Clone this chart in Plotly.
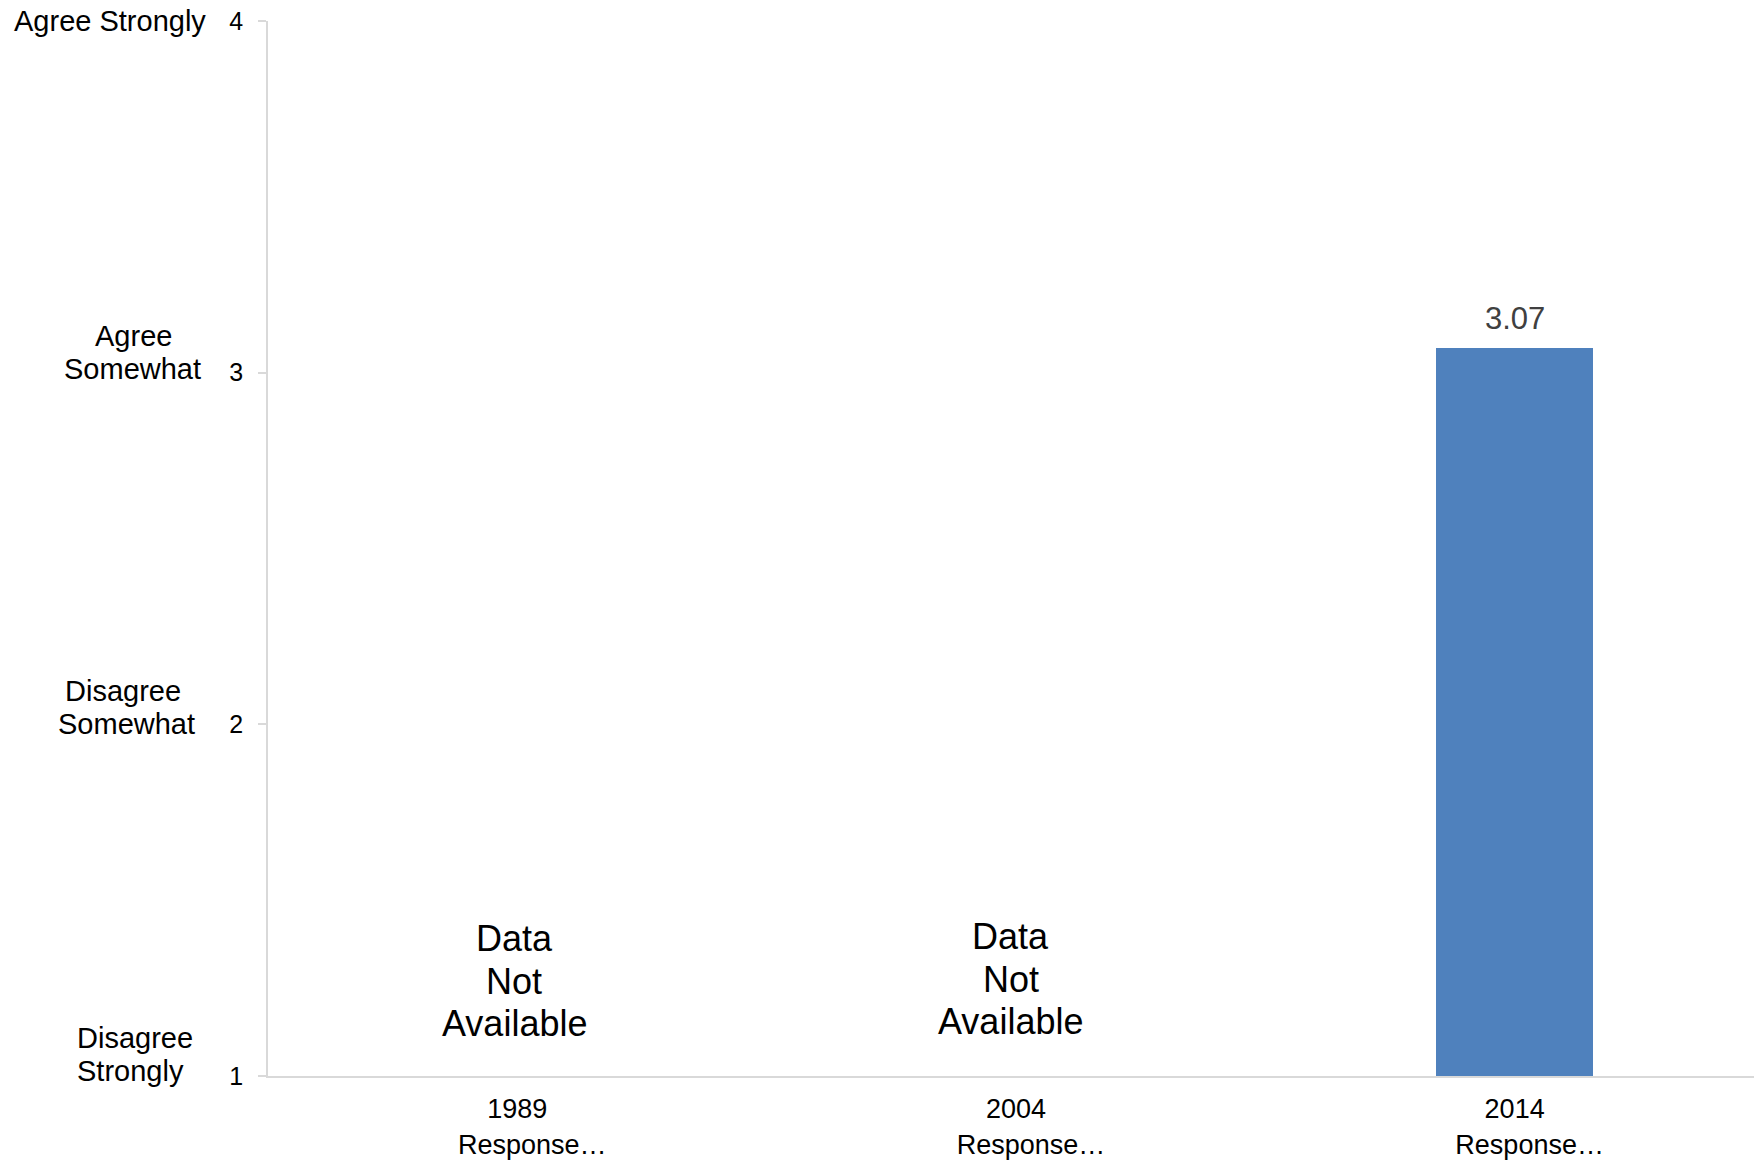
import plotly.graph_objects as go

categories = ["1989<br>\u00a0\u00a0\u00a0\u00a0Response…", "2004<br>\u00a0\u00a0\u00a0\u00a0Response…",
              "2014<br>\u00a0\u00a0\u00a0\u00a0Response…"]
values = [None, None, 3.07]
value_labels = ["", "", "3.07"]
missing_lines = ["Data", "Not", "Available"]
missing_idx = [0, 1]
y_ticks = [1, 2, 3, 4]
y_tick_names = {4: ["Agree Strongly"], 3: ["Agree", "Somewhat"],
                2: ["Disagree", "Somewhat"], 1: ["Disagree", "Strongly"]}

FONT = "Arial, Liberation Sans, sans-serif"
xpos = list(range(len(categories)))

fig = go.Figure()
fig.add_trace(go.Bar(
    x=xpos, y=values, width=0.315,
    marker=dict(color="#4f81bd", line=dict(width=0)),
    showlegend=False, hoverinfo="x+y",
))

annotations = []
# value labels above bars
for i, v in enumerate(values):
    if v is not None and value_labels[i]:
        annotations.append(dict(
            x=xpos[i], y=v, xref="x", yref="y", text=value_labels[i],
            showarrow=False, xanchor="center", yanchor="bottom", yshift=10,
            font=dict(size=31, color="#404040", family=FONT),
        ))

# "Data Not Available" notes, one line each
line_shifts = [139, 96, 54]
block_adj = {0: (-3, -1), 1: (-5, 1)}
for i in missing_idx:
    dx, dy = block_adj[i]
    for line, ys in zip(missing_lines, line_shifts):
        annotations.append(dict(
            x=xpos[i], y=1, xref="x", yref="y", text=line,
            showarrow=False, xanchor="center", yanchor="middle",
            xshift=dx, yshift=ys + dy,
            font=dict(size=36, color="#000000", family=FONT),
        ))

# y-axis descriptive labels (left of numeric tick labels), one line each
label_pos = {
    4: [(-158, 0)],
    3: [(-135, 37), (-136, 4)],
    2: [(-145, 33), (-142, 0)],
    1: [(-133, 38), (-138, 5)],
}
for v, lines in y_tick_names.items():
    for line, (dx, dy) in zip(lines, label_pos[v]):
        annotations.append(dict(
            x=0, y=v, xref="paper", yref="y", text=line,
            showarrow=False, xanchor="center", yanchor="middle",
            xshift=dx, yshift=dy,
            font=dict(size=29, color="#000000", family=FONT),
        ))

fig.update_layout(
    width=1754, height=1162,
    margin=dict(l=268, r=0, t=21, b=86, autoexpand=False),
    paper_bgcolor="white", plot_bgcolor="white",
    font=dict(family=FONT, color="#000000"),
    annotations=annotations,
    bargap=0,
)
fig.update_xaxes(
    tickmode="array", tickvals=xpos, ticktext=categories,
    range=[-0.5, 2.48], showgrid=False, zeroline=False,
    showline=True, linecolor="#d9d9d9", linewidth=2,
    ticks="", tickfont=dict(size=27, color="#000000", family=FONT),
    ticklabelstandoff=8,
)
fig.update_yaxes(
    range=[1, 4], tickvals=y_ticks, showgrid=False, zeroline=False,
    showline=True, linecolor="#d9d9d9", linewidth=1.5,
    ticks="outside", ticklen=8, tickcolor="#d9d9d9", tickwidth=1.5,
    tickfont=dict(size=25, color="#000000", family=FONT),
    ticklabelstandoff=10,
)

fig.write_html(
    "out.html",
    config={"displayModeBar": False},
    post_script="document.body.style.margin='0';document.body.style.overflow='hidden';",
)
